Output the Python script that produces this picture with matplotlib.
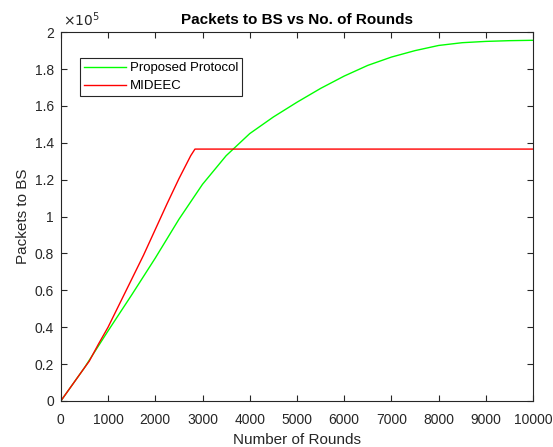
import matplotlib
matplotlib.use("Agg")
from matplotlib import pyplot as plt
from matplotlib.ticker import FuncFormatter
import numpy as np

# data (packets)
rounds_red = [0, 250, 500, 600, 800, 1000, 1250, 1500, 1750, 2000, 2250, 2500, 2750, 2840, 10000]
packets_red = [0, 9000, 18000, 21500, 31000, 40000, 53000, 66000, 79000, 93000,
               107000, 120500, 133000, 136600, 136600]

rounds_green = [0, 500, 1000, 1500, 2000, 2500, 3000, 3500, 4000, 4500, 5000,
                5500, 6000, 6500, 7000, 7500, 8000, 8500, 9000, 9500, 10000]
packets_green = [0, 18000, 38000, 57500, 77500, 98500, 117500, 133000, 145000, 154000,
                 162000, 169500, 176200, 182000, 186500, 190000, 192800, 194300,
                 195000, 195400, 195600]

xticks = np.arange(0, 10001, 1000)
yticks = np.arange(0, 200001, 20000)

plt.rcParams['font.family'] = ['Liberation Sans', 'DejaVu Sans']
axcol = "#262626"

fig = plt.figure(figsize=(5.53, 4.47), dpi=100)
ax = fig.add_axes([0.110, 0.103, 0.854, 0.825])

ax.plot(rounds_green, packets_green, color="#00ff00", linewidth=1, label="Proposed Protocol")
ax.plot(rounds_red, packets_red, color="#ff0000", linewidth=1, label="MIDEEC")

ax.set_xlim(0, 10000)
ax.set_ylim(0, 200000)
ax.set_xticks(xticks)
ax.set_yticks(yticks)
ax.yaxis.set_major_formatter(FuncFormatter(lambda v, p: "%g" % (v / 1e5)))
ax.text(0.005, 1.008, r"$\times10^{5}$", transform=ax.transAxes, fontsize=10,
        color=axcol, ha="left", va="bottom")

ax.tick_params(direction="in", length=4, width=0.8, colors=axcol, labelsize=10,
               top=True, right=True)
ax.tick_params(axis="x", pad=9)
ax.tick_params(axis="y", pad=5)
for s in ax.spines.values():
    s.set_color(axcol)
    s.set_linewidth(0.8)

ax.set_title("Packets to BS vs No. of Rounds", fontsize=11, fontweight="bold", pad=6)
ax.set_xlabel("Number of Rounds", fontsize=11, color=axcol, labelpad=4)
ax.set_ylabel("Packets to BS", fontsize=11, color=axcol, labelpad=3)

leg = ax.legend(loc="upper left", bbox_to_anchor=(0.04, 0.93), fontsize=9.5,
                fancybox=False, framealpha=1, edgecolor=axcol, borderpad=0.3,
                labelspacing=0.45, handlelength=3.2, handletextpad=0.3, borderaxespad=0)
leg.get_frame().set_linewidth(0.8)

fig.savefig("out.png", dpi=100)
